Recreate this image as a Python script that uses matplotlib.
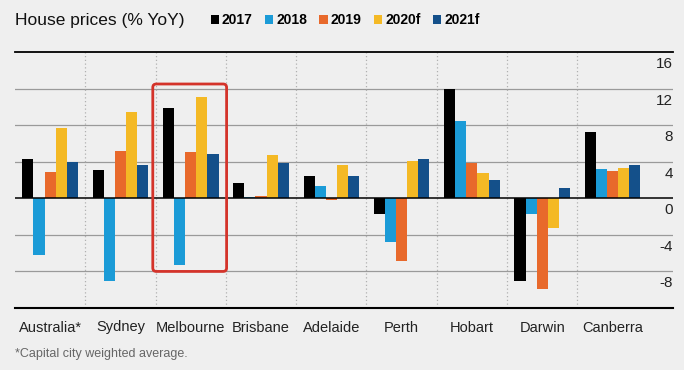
import matplotlib
matplotlib.use("Agg")
import matplotlib.pyplot as plt
import numpy as np
from matplotlib.patches import FancyBboxPatch
from matplotlib.transforms import blended_transform_factory, ScaledTranslation

plt.rcParams['font.family'] = ['Liberation Sans', 'DejaVu Sans']

categories = ["Australia*", "Sydney", "Melbourne", "Brisbane", "Adelaide",
              "Perth", "Hobart", "Darwin", "Canberra"]
series_names = ["2017", "2018", "2019", "2020f", "2021f"]
v2017 = [4.3, 3.1, 9.9, 1.7, 2.4, -1.7, 11.9, -9.1, 7.3]
v2018 = [-6.2, -9.0, -7.3, 0.1, 1.3, -4.8, 8.5, -1.7, 3.2]
v2019 = [2.9, 5.2, 5.1, 0.2, -0.2, -6.9, 3.9, -9.9, 3.0]
v2020f = [7.7, 9.4, 11.1, 4.7, 3.6, 4.1, 2.8, -3.2, 3.3]
v2021f = [4.0, 3.6, 4.8, 3.9, 2.4, 4.3, 2.0, 1.1, 3.6]
yticks = [16, 12, 8, 4, 0, -4, -8]

series = [v2017, v2018, v2019, v2020f, v2021f]
colors = ["#000000", "#1b9bd7", "#e8692b", "#f4b925", "#14508a"]
bg = "#efefef"

fig = plt.figure(figsize=(6.84, 3.70), dpi=100, facecolor=bg)
ax = fig.add_axes([15/684, 62/370, (673-15)/684, (308-52)/370], facecolor=bg)

x = np.arange(len(categories))
w = 0.158
for i, (vals, c, name) in enumerate(zip(series, colors, series_names)):
    ax.bar(x + (i - 2) * w, vals, width=w, color=c, label=name, zorder=3, linewidth=0)

ax.set_xlim(-0.5, 8.86)
ax.set_ylim(-12, 16)

# gridlines
for yv in yticks:
    if yv == 0:
        ax.axhline(0, color="black", lw=1.1, zorder=4)
    elif yv == 16:
        ax.axhline(16, color="black", lw=1.3, zorder=4, clip_on=False)
    else:
        ax.axhline(yv, color="#9a9a9a", lw=0.9, zorder=1)

# dotted dividers
for d in np.arange(0.5, len(categories) - 1, 1.0):
    ax.plot([d, d], [-12, 16], color="#b0b0b0", lw=0.9, ls=(0, (1, 2)), zorder=1)

for s in ["top", "right", "left"]:
    ax.spines[s].set_visible(False)
ax.spines["bottom"].set_color("black")
ax.spines["bottom"].set_linewidth(1.5)
ax.set_yticks([])
ax.set_xticks(x)
ax.set_xticklabels(categories, fontsize=10.5, color="#222222")
ax.tick_params(axis="x", length=0, pad=9)

# y labels under gridlines at right
trans = blended_transform_factory(ax.transAxes, ax.transData) + ScaledTranslation(0, -12/100, fig.dpi_scale_trans)
for yv in yticks:
    ax.text(1.0, yv, str(yv), transform=trans, ha="right", va="center",
            fontsize=11, color="#222222")

# red highlight box around Melbourne
box = FancyBboxPatch((1.46, -8.0), 2.51 - 1.46, 12.5 + 8.0,
                     boxstyle="round,pad=0,rounding_size=0.05",
                     mutation_aspect=7.68, fill=False, edgecolor="#d4332a",
                     lw=2.0, zorder=5)
ax.add_patch(box)

fig.text(15/684, 1 - 20/370, "House prices (% YoY)", fontsize=12.5, va="center",
         ha="left", color="#111111")
leg = fig.legend(loc="center left", bbox_to_anchor=(198/684, 1 - 20/370), ncol=5,
                 frameon=False, handlelength=0.6, handleheight=0.6,
                 handletextpad=0.2, columnspacing=0.9,
                 prop={"weight": "bold", "size": 10})
fig.text(15/684, 1 - 354/370, "*Capital city weighted average.", fontsize=9,
         va="center", ha="left", color="#666666")

fig.savefig("out.png", dpi=100, facecolor=bg)
